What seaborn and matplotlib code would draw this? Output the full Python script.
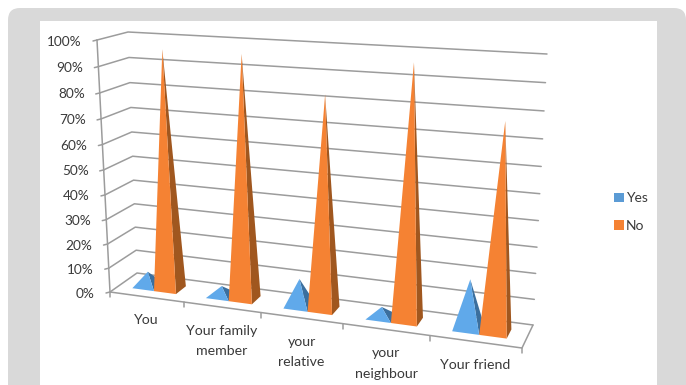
import numpy as np
import pandas as pd
import seaborn as sns
import matplotlib
matplotlib.use("Agg")
import matplotlib.pyplot as plt
from matplotlib.patches import FancyBboxPatch, Rectangle, Patch

# Chart data (percent of respondents)
categories = ["You", "Your family\nmember", "your\nrelative", "your\nneighbour", "Your friend"]
series_names = ["Yes", "No"]
yes_values = [6, 4, 11, 4, 19]
no_values = [96, 96, 83, 96.5, 78]
axis_ticks = list(range(0, 101, 10))

face_colors = {"Yes": "#60a9ea", "No": "#f58233"}
side_colors = {"Yes": "#3b6f9e", "No": "#a0571f"}
legend_colors = {"Yes": "#5b9bd5", "No": "#f58233"}
grid_color = "#9c9c9c"
text_color = "#3a3a3a"

sns.set_theme(style="white")
plt.rcParams["font.family"] = ["Lato", "DejaVu Sans"]

# Corners of the 3-D plot box on the canvas, in pixels
FLOOR = {"fl": (110, 292), "fr": (522, 348), "bl": (137, 273), "br": (533, 325)}
CEIL = {"fl": (97, 40), "fr": (538, 65), "bl": (128, 32), "br": (547, 54)}


def warp(t, k):
    """Perspective foreshortening of a 0-1 coordinate."""
    return t * (1 - k) / (1 - k * t)


def project(u, depth, pct):
    """Map category position u (0-1), depth (0 front, 1 back) and a percentage to the canvas."""
    s = warp(u, 0.13)
    t = warp(pct / 100, 0.06)

    def plane(c):
        front = np.array(c["fl"]) * (1 - s) + np.array(c["fr"]) * s
        back = np.array(c["bl"]) * (1 - s) + np.array(c["br"]) * s
        return front * (1 - depth) + back * depth

    return plane(FLOOR) * (1 - t) + plane(CEIL) * t


fig = plt.figure(figsize=(6.86, 3.85), dpi=100, facecolor="white")
ax = fig.add_axes([0, 0, 1, 1])
ax.set_axis_off()

# Grey card with a white panel holding the chart
ax.add_patch(FancyBboxPatch((8, 8), 678, 420, boxstyle="round,pad=0,rounding_size=12",
                            facecolor="#d9d9d9", edgecolor="none", zorder=0))
ax.add_patch(Rectangle((40, 21), 617, 380, facecolor="white", edgecolor="none", zorder=0.5))

# Gridlines on the back and side walls, floor outline, axis line and ticks
segments = []


def add_segment(name, *points):
    for p in points:
        segments.append({"line": name, "x": p[0], "y": p[1]})


for pct in axis_ticks:
    add_segment(f"wall{pct}", project(0, 0, pct), project(0, 1, pct), project(1, 1, pct))
    a = project(0, 0, pct)
    add_segment(f"ytick{pct}", a + np.array([-4, 1]), a)
add_segment("axis", project(0, 0, 0), project(0, 0, 100))
add_segment("floor", project(0, 0, 0), project(1, 0, 0), project(1, 1, 0))
for i in range(len(categories) + 1):
    a = project(i / len(categories), 0, 0)
    add_segment(f"xtick{i}", a, a + np.array([0, 5]))

sns.lineplot(data=pd.DataFrame(segments), x="x", y="y", units="line", estimator=None,
             sort=False, color=grid_color, linewidth=1.1, legend=False, ax=ax, zorder=1)

# Pyramids: visible front and right faces of each series in each category
n = len(categories)
series_values = {"Yes": yes_values, "No": no_values}
offsets = {"Yes": (0.2, 0.5), "No": (0.5, 0.8)}
DEPTH = (0.3, 0.7)
for i in range(n):
    for name in series_names:
        lo, hi = offsets[name]
        value = series_values[name][i]
        ul, ur = (i + lo) / n, (i + hi) / n
        fl = project(ul, DEPTH[0], 0)
        fr = project(ur, DEPTH[0], 0)
        br = project(ur, DEPTH[1], 0)
        tip = project((ul + ur) / 2, 0.5, value)
        ax.fill(*zip(br, fr, tip), color=side_colors[name], linewidth=0, zorder=2)
        ax.fill(*zip(fl, fr, tip), color=face_colors[name], linewidth=0, zorder=2)

# Value axis labels
for pct in axis_ticks:
    x, y = project(0, 0, pct)
    ax.text(x - 15, y + 1.5, f"{pct}%", ha="right", va="center", fontsize=9.8, color=text_color)

# Category labels below the front edge of the floor
for i, label in enumerate(categories):
    x, y = project((i + 0.5) / n, 0, 0)
    drop = 34 if "\n" in label else 23
    ax.text(x, y + drop, label, ha="center", va="center", fontsize=10.2,
            color=text_color, linespacing=1.85)

handles = [Patch(facecolor=legend_colors[s], edgecolor="none", label=s) for s in series_names]
ax.legend(handles=handles, loc="center left", bbox_to_anchor=(614, 212),
          bbox_transform=ax.transData, frameon=False, fontsize=10, labelcolor=text_color,
          handlelength=0.72, handleheight=0.72, handletextpad=0.14, labelspacing=1.1,
          borderpad=0, borderaxespad=0)

ax.set_xlim(0, 686)
ax.set_ylim(385, 0)
ax.set_xlabel("")
ax.set_ylabel("")
fig.savefig("out.png", dpi=100, facecolor="white")
